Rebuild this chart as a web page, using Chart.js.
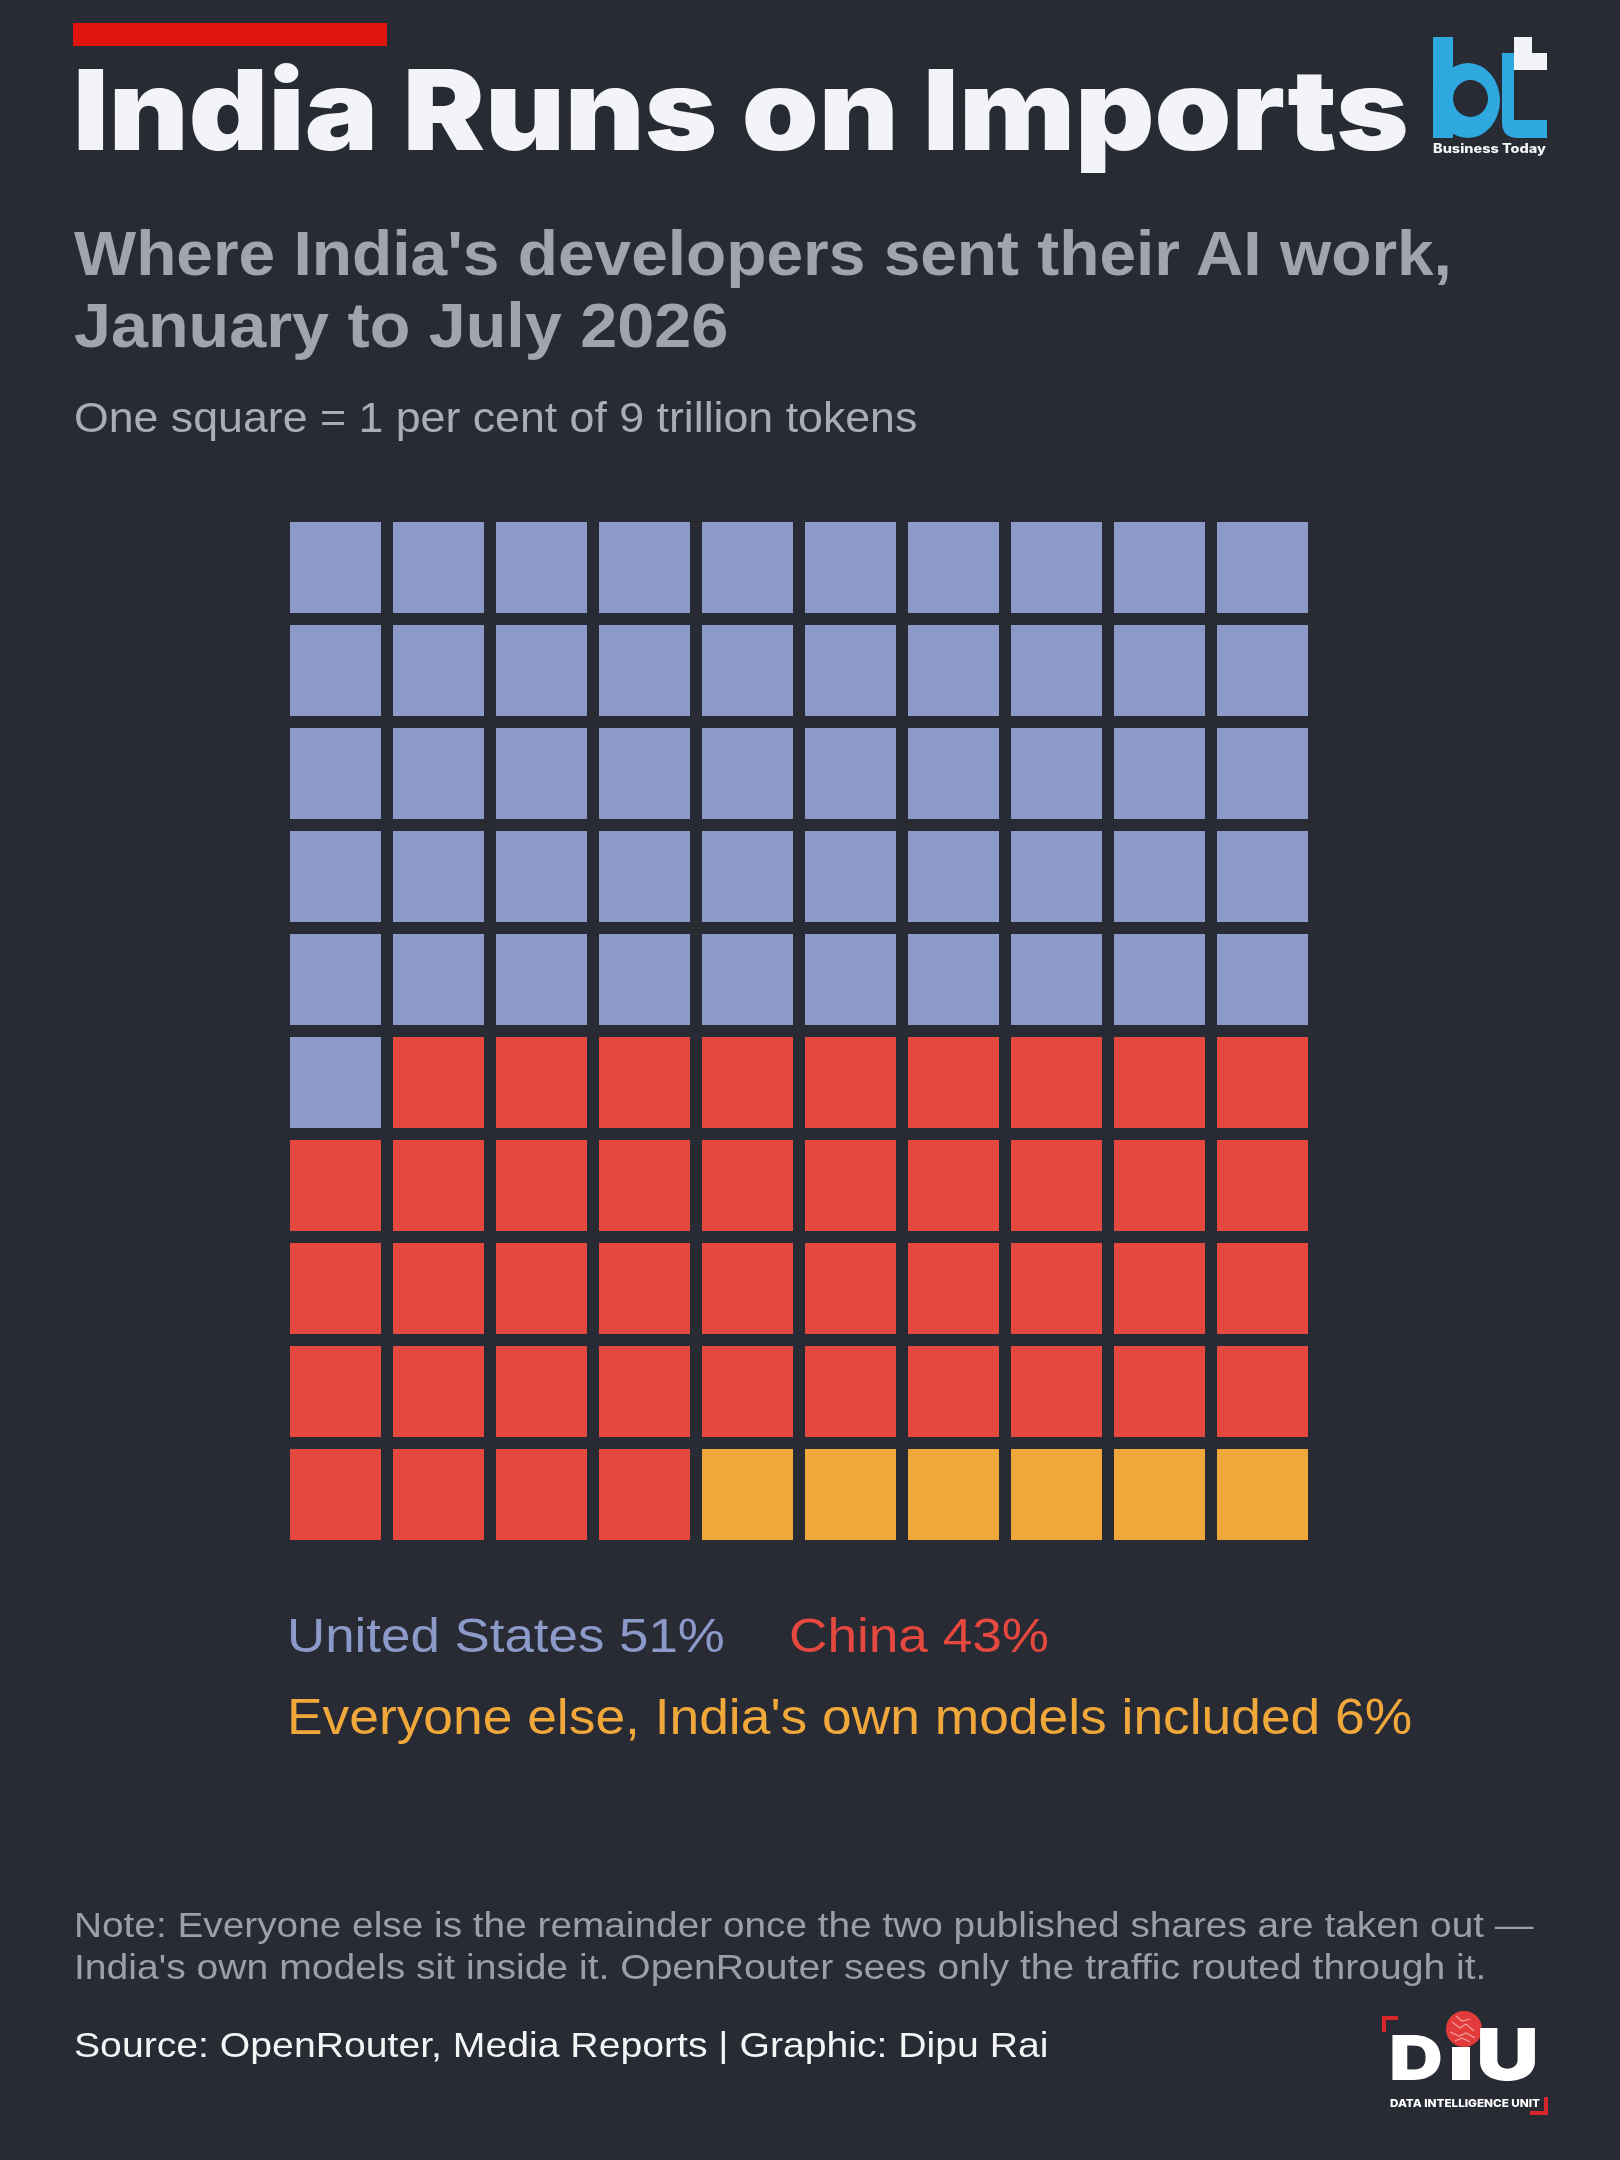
<!DOCTYPE html>
<html>
<head>
<meta charset="utf-8">
<title>India Runs on Imports</title>
<script src="https://cdn.jsdelivr.net/npm/chart.js@4.4.1/dist/chart.umd.min.js"></script>
<style>
  html, body { margin: 0; padding: 0; background: #282a34; }
  #page { position: relative; width: 1620px; height: 2160px; overflow: hidden; background: #282a34; }
  #waffle { position: absolute; left: 0; top: 0; }
  #logos { position: absolute; left: 0; top: 0; pointer-events: none; }
  .redbar { position: absolute; left: 73px; top: 23px; width: 314px; height: 23px; background: #e0130e; }
  .t { position: absolute; left: 0; top: 0; white-space: nowrap; line-height: 1; transform-origin: 0 0; }
  .heavy { font-family: Inter, sans-serif; font-weight: 900; }
  .bold { font-family: "Liberation Sans", Arial, sans-serif; font-weight: 700; }
  .reg { font-family: "Liberation Sans", Arial, sans-serif; font-weight: 400; }
</style>
</head>
<body>
<div id="page">
  <canvas id="waffle" width="1620" height="2160"></canvas>
  <div class="redbar"></div>

  <div class="t heavy" style="color:#f3f4f8" data-x="73" data-base="150" data-w="1336" data-cap="81">India Runs on Imports</div>
  <div class="t bold" style="color:#a0a4ad" data-x="74" data-base="275" data-w="1378" data-cap="45">Where India's developers sent their AI work,</div>
  <div class="t bold" style="color:#a0a4ad" data-x="74" data-base="347" data-w="654" data-cap="45">January to July 2026</div>
  <div class="t reg" style="color:#a9adb5" data-x="74" data-base="432" data-w="843" data-cap="30">One square = 1 per cent of 9 trillion tokens</div>

  <div class="t reg legend" data-i="0" data-x="287" data-base="1652" data-w="438" data-cap="35"></div>
  <div class="t reg legend" data-i="1" data-x="789" data-base="1652" data-w="260" data-cap="35"></div>
  <div class="t reg legend" data-i="2" data-x="287" data-base="1734" data-w="1125" data-cap="36"></div>

  <div class="t reg" style="color:#9b9fa8" data-x="74" data-base="1937" data-w="1460" data-cap="25">Note: Everyone else is the remainder once the two published shares are taken out —</div>
  <div class="t reg" style="color:#9b9fa8" data-x="74" data-base="1979" data-w="1412" data-cap="25">India's own models sit inside it. OpenRouter sees only the traffic routed through it.</div>
  <div class="t reg" style="color:#f3f4f6" data-x="74" data-base="2057" data-w="975" data-cap="25">Source: OpenRouter, Media Reports | Graphic: Dipu Rai</div>

  <svg id="logos" width="1620" height="2160" viewBox="0 0 1620 2160">
    <!-- bt logo -->
    <rect x="1433" y="37" width="20" height="101" fill="#2ea8df"/>
    <path fill="#2ea8df" fill-rule="evenodd"
      d="M1436 100.5 a32 37.5 0 1 0 64 0 a32 37.5 0 1 0 -64 0 Z M1453 98.5 a17.5 18.5 0 1 0 35 0 a17.5 18.5 0 1 0 -35 0 Z"/>
    <path fill="#2ea8df" d="M1502 53 H1514 V120 H1547 V138 H1518 Q1502 138 1502 122 Z"/>
    <path fill="#f3f4f8" d="M1514 37 H1532 V53 H1547 V70 H1514 Z"/>
    <text x="1433" y="153" font-family="Inter, sans-serif" font-weight="800" font-size="12.5" fill="#f3f4f8"
      textLength="113" lengthAdjust="spacingAndGlyphs">Business Today</text>

    <!-- DIU logo -->
    <path fill="#d7262b" d="M1382 2016 H1398 V2020 H1386 V2032 H1382 Z"/>
    <path fill="#d7262b" d="M1548 2115 H1530 V2111 H1544 V2097 H1548 Z"/>
    <text x="1389" y="2080" font-family="Inter, sans-serif" font-weight="900" font-size="62" fill="#ffffff"
      textLength="54" lengthAdjust="spacingAndGlyphs">D</text>
    <rect x="1452" y="2047" width="18" height="33" fill="#ffffff"/>
    <circle cx="1464" cy="2029" r="18" fill="#e23b3b"/>
    <path fill="none" stroke="#f6b5b5" stroke-width="1.2" opacity="0.8"
      d="M1452 2022 l8 6 l6 -4 l8 7 M1450 2032 l9 4 l7 -3 l9 5 M1456 2016 l6 5 l8 -2 M1455 2041 l7 -3 l8 4"/>
    <text x="1476" y="2080" font-family="Inter, sans-serif" font-weight="900" font-size="72" fill="#ffffff"
      textLength="63" lengthAdjust="spacingAndGlyphs">U</text>
    <text x="1390" y="2107" font-family="Inter, sans-serif" font-weight="800" font-size="11" fill="#ffffff"
      textLength="150" lengthAdjust="spacingAndGlyphs">DATA INTELLIGENCE UNIT</text>
  </svg>
</div>

<script>
// waffle data: one square = 1 per cent
const categories = ['United States', 'China', "Everyone else, India's own models included"];
const shares = [51, 43, 6];
const colours = ['#8b9ac8', '#e5483f', '#f0a83a'];
const gridCols = 10;
const gridRows = 10;

// fill the grid row by row, top-left first
let cell = 0;
const datasets = categories.map((name, i) => {
  const points = [];
  for (let k = 0; k < shares[i]; k++) {
    points.push({ x: cell % gridCols, y: Math.floor(cell / gridCols) });
    cell++;
  }
  return {
    label: name,
    data: points,
    backgroundColor: colours[i],
    pointStyle: 'rect',
    pointBorderWidth: 0,
    // square side is 91/103 of one grid step; rect style draws side = r * sqrt2
    pointRadius: (ctx) => {
      const x = ctx.chart.scales.x;
      const step = x.getPixelForValue(1) - x.getPixelForValue(0);
      return step * 91 / 103 / Math.SQRT2;
    },
    clip: false
  };
});

new Chart(document.getElementById('waffle'), {
  type: 'scatter',
  data: { datasets: datasets },
  options: {
    responsive: false,
    animation: false,
    events: [],
    layout: { padding: { left: 284, right: 306, top: 516, bottom: 614 } },
    plugins: {
      legend: { display: false },
      tooltip: { enabled: false }
    },
    scales: {
      x: { type: 'linear', min: -0.5, max: gridCols - 0.5, display: false },
      y: { type: 'linear', min: -0.5, max: gridRows - 0.5, reverse: true, display: false }
    }
  }
});

// legend lines take their words and colours from the data
document.querySelectorAll('.legend').forEach((el) => {
  const i = +el.dataset.i;
  el.textContent = categories[i] + ' ' + shares[i] + '%';
  el.style.color = colours[i];
});

// put each text block on its baseline and stretch it to the measured width
function layoutText() {
  document.querySelectorAll('.t').forEach((el) => {
    const capRatio = el.classList.contains('heavy') ? 0.727 : 0.716;
    el.style.transform = 'none';
    el.style.fontSize = (+el.dataset.cap / capRatio) + 'px';
    let mark = el.querySelector('.bl');
    if (!mark) {
      mark = document.createElement('span');
      mark.className = 'bl';
      mark.style.cssText = 'display:inline-block;width:0;height:0;vertical-align:baseline;';
      el.appendChild(mark);
    }
    const baseOffset = mark.offsetTop;
    const natural = el.offsetWidth;
    el.style.left = el.dataset.x + 'px';
    el.style.top = (+el.dataset.base - baseOffset) + 'px';
    el.style.transform = 'scaleX(' + (+el.dataset.w / natural) + ')';
  });
}
layoutText();
if (document.fonts && document.fonts.ready) document.fonts.ready.then(layoutText);
</script>
</body>
</html>
